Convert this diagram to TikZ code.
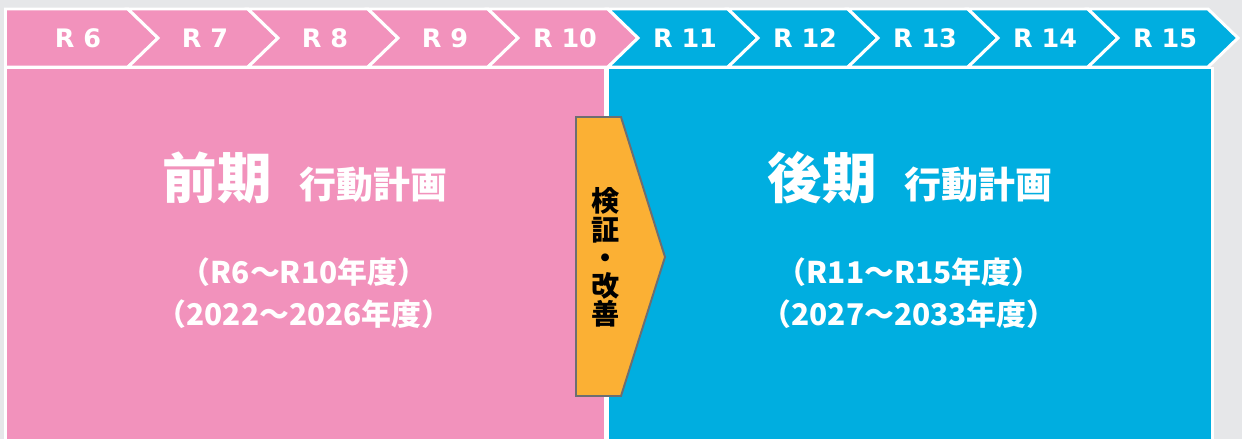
\documentclass[tikz,border=0pt]{standalone}
\usepackage{fontspec}
\setmainfont{DejaVu Sans}
\newfontfamily\jp{Noto Sans CJK JP}
\usetikzlibrary{positioning}
\definecolor{haikei}{HTML}{E6E7E9}
\definecolor{momo}{HTML}{F292BC}
\definecolor{sora}{HTML}{00AEE0}
\definecolor{daidai}{HTML}{FBB034}
\definecolor{waku}{HTML}{6D6E71}
\tikzset{
    yajirushi/.style={draw=white, line width=1.7pt, line join=miter},
    nendo/.style={text=white, font=\bfseries\fontsize{14.5}{14.5}\selectfont},
    kikan/.style={text=white, font=\jp\bfseries\fontsize{21}{21}\selectfont},
    kakko/.style={text=white, font=\jp\bfseries\fontsize{17}{17}\selectfont},
    kensho/.style={fill=daidai, draw=waku, line width=1.1pt, line join=miter},
    tate/.style={align=center, inner sep=0pt, font=\jp\bfseries\fontsize{16}{16}\selectfont},
}
\newcommand{\ookii}[1]{{\fontsize{31}{31}\selectfont #1}}
\begin{document}
\begin{tikzpicture}[x=0.02cm, y=-0.02cm]
    \fill[haikei] (0,0) rectangle (1242,439);
    \useasboundingbox (0,0) rectangle (1242,439);
    % nendo no yajirushi
    \foreach \k in {0,...,9}{
        \pgfmathsetmacro{\xl}{8+120*\k}
        \pgfmathsetmacro{\xr}{128+120*\k}
        \pgfmathtruncatemacro{\r}{\k+6}
        \ifnum\k<5 \def\iro{momo}\else\def\iro{sora}\fi
        \ifnum\k=0
            \draw[yajirushi, fill=\iro] (5.5,9) -- (\xr,9) -- (\xr+30,38) -- (\xr,67) -- (5.5,67) -- cycle;
            \node[nendo] (r\r) at (78,38) {R \r};
        \else
            \draw[yajirushi, fill=\iro] (\xl,9) -- (\xr,9) -- (\xr+30,38) -- (\xr,67) -- (\xl,67) -- (\xl+30,38) -- cycle;
            \node[nendo] (r\r) at (\xl+77,38) {R \r};
        \fi
    }
    % zenki / kouki
    \draw[yajirushi, fill=momo] (5.5,68) rectangle (605.5,445);
    \draw[yajirushi, fill=sora] (608,68) rectangle (1212,445);
    \node[kikan] (zenki) at (305,178) {\ookii{前期}\hspace{16pt}行動計画};
    \node[kakko] (zenki1) at (304,272) {（R6～R10年度）};
    \node[kakko] (zenki2) at (304,314) {（2022～2026年度）};
    \node[kikan] (kouki) at (910,178) {\ookii{後期}\hspace{16pt}行動計画};
    \node[kakko] (kouki1) at (909,272) {（R11～R15年度）};
    \node[kakko] (kouki2) at (909,314) {（2027～2033年度）};
    % kensho kaizen
    \draw[kensho] (576,117) -- (621,117) -- (665,257) -- (621,396) -- (576,396) -- cycle;
    \node[tate] (kaizen) at (605.5,257.5) {検\\証\\・\\改\\善};
\end{tikzpicture}
\end{document}
